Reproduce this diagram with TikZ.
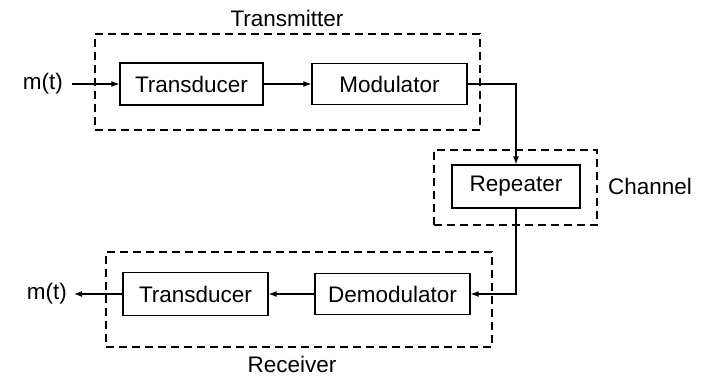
\documentclass[tikz,border=0pt]{standalone}
\usepackage{fontspec}
\setmainfont{Liberation Sans}
\usetikzlibrary{arrows.meta}
\begin{document}
\begin{tikzpicture}[x=1pt,y=-1pt,
  every node/.style={font=\fontsize{22.5}{26}\selectfont},
  blk/.style={draw,line width=1.3pt,rectangle,inner sep=0pt},
  grp/.style={draw,line width=1.3pt,dash pattern=on 8pt off 5pt,rectangle,inner sep=0pt},
  lbl/.style={inner sep=0pt},
  conn/.style={line width=1.1pt,-{Latex[length=8pt,width=6pt]}}
]
\useasboundingbox (0,0) rectangle (711,376);
% group boxes
\node[grp,minimum width=385pt,minimum height=96pt] (tx) at (287.5,82) {};
\node[grp,minimum width=163pt,minimum height=75pt] (ch) at (515.5,187.5) {};
\node[grp,minimum width=386pt,minimum height=95pt] (rx) at (299,299.5) {};
% group labels
\node[lbl] (txl) at (287,18) {Transmitter};
\node[lbl] (chl) at (650,186) {Channel};
\node[lbl] (rxl) at (292,364) {Receiver};
% blocks
\node[blk,minimum width=143pt,minimum height=42pt] (td1) at (191.5,84) {Transducer};
\node[blk,minimum width=155pt,minimum height=41pt] (mod) at (389.5,84) {Modulator};
\node[blk,minimum width=128pt,minimum height=43pt] (rep) at (516,186.5) {Repeater};
\node[blk,minimum width=155pt,minimum height=41pt] (dem) at (392.5,294) {Demodulator};
\node[blk,minimum width=145pt,minimum height=43pt] (td2) at (195.5,294) {Transducer};
% signals
\node[lbl,anchor=east] (min) at (63,84) {m(t)};
\node[lbl,anchor=east] (mout) at (67,294) {m(t)};
% connectors
\draw[conn] ([xshift=9pt]min.east) -- (td1.west);
\draw[conn] (td1.east) -- (mod.west);
\draw[conn] (mod.east) -| (rep.north);
\draw[conn] (rep.south) |- (dem.east);
\draw[conn] (dem.west) -- (td2.east);
\draw[conn] (td2.west) -- ([xshift=7pt]mout.east);
\end{tikzpicture}
\end{document}
